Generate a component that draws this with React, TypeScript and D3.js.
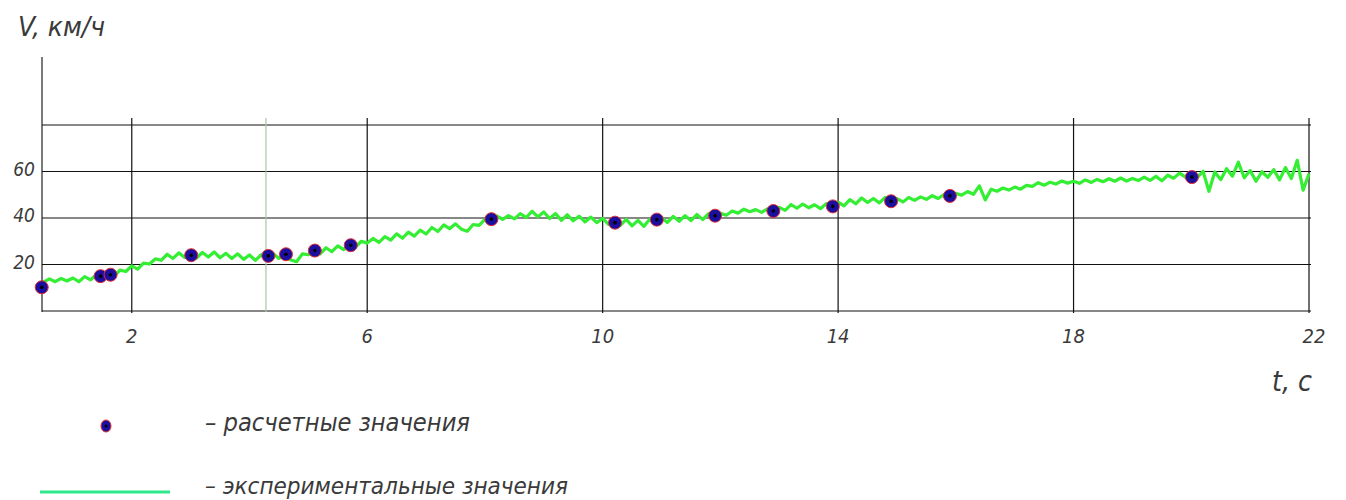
import React from 'react';
import * as d3 from 'd3';

const W = 1346;
const H = 500;

// axis ticks
const xTicks = [2, 6, 10, 14, 18, 22];
const yTicks = [20, 40, 60];
const yGrid = [0, 20, 40, 60, 80];

// calculated values (dots)
const calcT = [0.47, 1.47, 1.64, 3.01, 4.32, 4.62, 5.11, 5.72, 8.11, 10.21, 10.92, 11.91, 12.9, 13.91, 14.9, 15.9, 20.01];
const calcV = [10.2, 15.0, 15.6, 24.0, 23.7, 24.4, 26.0, 28.3, 39.5, 38.0, 39.3, 41.0, 43.0, 45.0, 47.2, 49.5, 57.6];

// experimental values, sampled every 0.1 s from 0.5 s
const expT0 = 0.5;
const expDt = 0.1;
const expV = [
  12.4, 13.8, 12.6, 14.0, 12.9,
  14.2, 12.6, 14.8, 13.4, 15.6, 14.2, 16.4, 15.0, 17.6, 17.0,
  19.4, 18.0, 20.6, 20.2, 22.4, 21.8, 24.4, 22.6, 25.0, 23.0,
  25.2, 22.8, 25.2, 23.2, 25.4, 22.9, 24.8, 22.6, 24.6, 22.2,
  24.1, 21.8, 24.2, 22.5, 24.7, 22.6, 24.8, 22.0, 21.2, 24.6,
  24.2, 26.5, 24.6, 27.2, 25.5, 28.0, 26.4, 29.2, 27.5, 30.0,
  29.2, 31.2, 29.5, 32.0, 30.5, 33.2, 31.3, 33.9, 32.2, 34.8,
  33.1, 35.9, 34.2, 37.0, 35.4, 37.5, 35.2, 34.3, 37.2, 36.8,
  39.4, 39.0, 40.9, 39.4, 41.0, 39.6, 41.9, 40.2, 42.9, 40.5,
  42.6, 39.8, 41.9, 39.0, 41.4, 38.8, 40.8, 38.3, 40.4, 38.0,
  39.8, 37.3, 39.2, 36.8, 39.4, 36.6, 39.0, 36.4, 39.5, 37.5,
  40.2, 38.1, 40.7, 38.6, 41.0, 38.9, 41.5, 39.3, 41.9, 40.0,
  42.0, 41.2, 43.0, 42.1, 43.8, 42.7, 43.6, 42.4, 43.9, 43.1,
  44.6, 43.3, 45.8, 44.2, 46.0, 44.4, 45.7, 44.0, 46.2, 44.9,
  46.8, 45.2, 47.9, 46.1, 48.6, 46.7, 48.4, 46.5, 48.9, 47.0,
  48.3, 46.9, 48.8, 47.6, 49.1, 48.0, 49.6, 48.4, 50.1, 49.3,
  50.6, 49.8, 51.4, 50.2, 53.8, 47.8, 52.4, 51.5, 52.9, 52.0,
  53.3, 52.4, 54.0, 53.6, 55.2, 54.1, 55.4, 54.6, 55.9, 55.0,
  55.8, 54.9, 56.4, 55.3, 56.6, 55.6, 56.9, 55.8, 57.2, 55.9,
  57.0, 56.1, 57.6, 56.2, 57.9, 56.0, 58.4, 57.1, 59.3, 57.6,
  58.6, 57.4, 60.1, 51.5, 59.8, 56.5, 61.2, 58.0, 64.0, 57.3,
  60.4, 55.8, 59.9, 57.5, 60.8, 56.4, 61.7, 57.0, 64.8, 52.0,
  59.0,
];

const markerT = 4.28;

const font = "'Liberation Sans Narrow', 'DejaVu Sans Condensed', 'DejaVu Sans', sans-serif";
const textColor = '#3a3a3a';

export default function App() {
  const x = d3.scaleLinear([0.475, 22], [42, 1309]);
  const y = d3.scaleLinear([0, 80], [311, 125]);

  const expData = expV.map((v, i) => [expT0 + i * expDt, v] as [number, number]);
  const line = d3.line<[number, number]>()
    .x(d => x(d[0]))
    .y(d => y(d[1]));

  const pts = calcT.map((t, i) => ({ t, v: calcV[i] }));

  return (
    <svg width={W} height={H} style={{ position: 'absolute', left: 0, top: 0, background: '#fff' }}>
      {/* y axis */}
      <line x1={x(0.475)} x2={x(0.475)} y1={57} y2={312} stroke="#333" strokeWidth={1.3} />

      {/* horizontal grid */}
      {yGrid.map(v => (
        <line key={'h' + v} x1={x(0.475)} x2={x(22) + 2} y1={y(v)} y2={y(v)} stroke="#111" strokeWidth={1.2} />
      ))}

      {/* vertical grid */}
      {xTicks.map(t => (
        <line key={'v' + t} x1={x(t)} x2={x(t)} y1={118} y2={313} stroke="#111" strokeWidth={1.2} />
      ))}
      <line x1={x(markerT)} x2={x(markerT)} y1={118} y2={312} stroke="#a9c7a9" strokeWidth={1.2} />

      {/* x tick labels */}
      {xTicks.map(t => (
        <text key={'xl' + t} x={x(t) + (t === 22 ? 5 : 0)} y={343} textAnchor="middle"
          fontFamily={font} fontStyle="italic" fontWeight={300} fontSize={20} fill={textColor}>{t}</text>
      ))}

      {/* y tick labels */}
      {yTicks.map(v => (
        <text key={'yl' + v} x={35} y={y(v) + 4} textAnchor="end"
          fontFamily={font} fontStyle="italic" fontWeight={300} fontSize={19} fill={textColor}>{v}</text>
      ))}

      {/* axis titles */}
      <text x={18} y={36} fontFamily={font} fontStyle="italic" fontWeight={300} fontSize={27} fill={textColor}
        textLength={87} lengthAdjust="spacingAndGlyphs">V, км/ч</text>
      <text x={1272} y={391} fontFamily={font} fontStyle="italic" fontWeight={300} fontSize={28} fill={textColor}
        textLength={40} lengthAdjust="spacingAndGlyphs">t, с</text>

      {/* experimental line */}
      <path d={line(expData) ?? ''} fill="none" stroke="#33ee33" strokeWidth={3.2} strokeLinejoin="round" />

      {/* calculated points */}
      {pts.map((p, i) => (
        <g key={'p' + i} transform={`translate(${x(p.t)},${y(p.v)})`}>
          <circle r={6.5} fill="#1c0e9e" stroke="#e03030" strokeWidth={1} />
          <circle r={1.8} fill="#000" />
        </g>
      ))}

      {/* legend */}
      <g transform="translate(106,426)">
        <ellipse rx={5} ry={6} fill="#1c0e9e" stroke="#e03030" strokeWidth={1} />
        <circle r={1.5} fill="#000" />
      </g>
      <text x={205} y={431} fontFamily={font} fontStyle="italic" fontWeight={300} fontSize={24} fill={textColor}
        textLength={265} lengthAdjust="spacingAndGlyphs">– расчетные значения</text>

      <line x1={40} x2={170} y1={492} y2={492} stroke="#2ee88a" strokeWidth={3} />
      <text x={205} y={494} fontFamily={font} fontStyle="italic" fontWeight={300} fontSize={23} fill={textColor}
        textLength={363} lengthAdjust="spacingAndGlyphs">– экспериментальные значения</text>
    </svg>
  );
}
